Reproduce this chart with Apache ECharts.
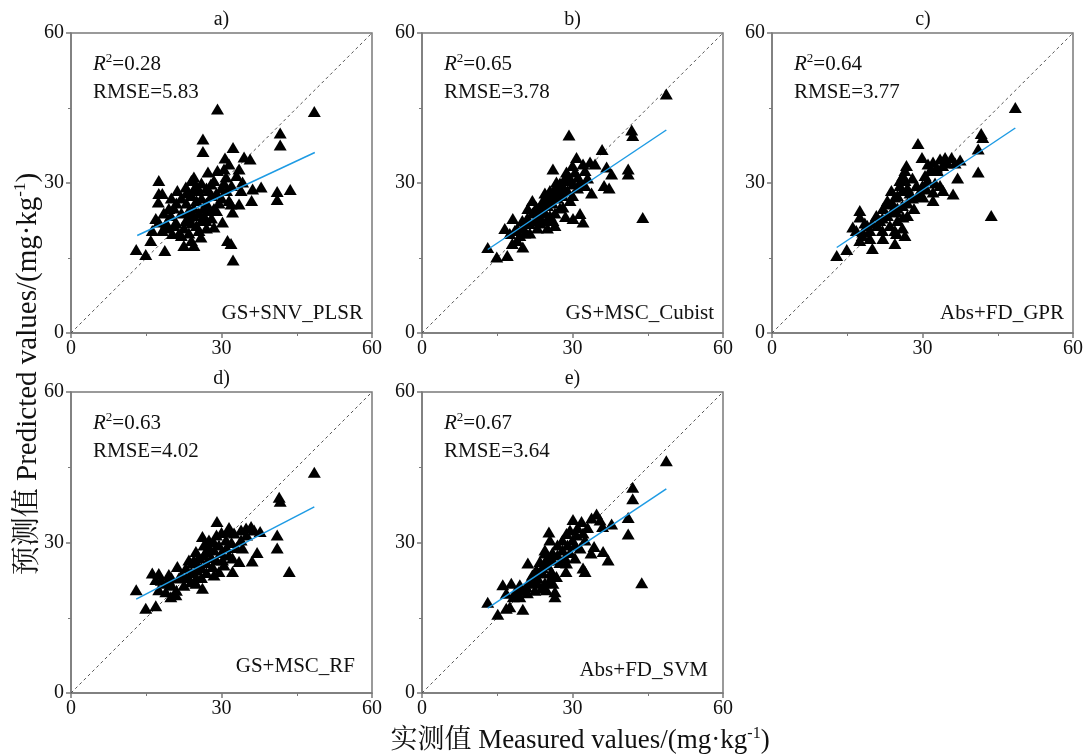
<!DOCTYPE html>
<html>
<head>
<meta charset="utf-8">
<script src="https://cdn.jsdelivr.net/npm/echarts@6/dist/echarts.min.js"></script>
<style>html,body{margin:0;padding:0;background:#fff;}#c{width:1086px;height:755px;}</style>
</head>
<body>
<div id="c"></div>
<script>
// ---------- data ----------
const panelTitles = ['a)', 'b)', 'c)', 'd)', 'e)'];
const r2Values = ['0.28', '0.65', '0.64', '0.63', '0.67'];
const rmseValues = ['5.83', '3.78', '3.77', '4.02', '3.64'];
const methodLabels = ['GS+SNV_PLSR', 'GS+MSC_Cubist', 'Abs+FD_GPR', 'GS+MSC_RF', 'Abs+FD_SVM'];
const axisMin = 0, axisMax = 60, axisStep = 30;
const diagonal = [[0, 0], [60, 60]];
const xAxisName = '实测值 Measured values/(mg·kg';
const yAxisName = '预测值 Predicted values/(mg·kg';
const unitSup = '-1';

const pointsA = [[29.2,44.8],[48.5,44.3],[41.7,40.0],[41.7,37.6],[26.3,38.8],[26.3,36.3],[32.3,37.1],[34.5,35.2],[35.7,34.8],[30.7,35.0],[31.5,33.8],[27.3,32.2],[29.2,32.5],[30.5,32.8],[33.5,32.8],[17.5,30.5],[24.5,31.2],[27.9,29.8],[34.2,30.2],[30.9,31.2],[36.2,28.8],[37.9,29.2],[41.1,28.3],[41.1,26.7],[43.7,28.7],[36.0,26.5],[33.9,28.5],[31.9,25.8],[33.5,25.8],[17.5,27.9],[18.2,27.9],[17.4,26.2],[21.2,28.5],[22.9,29.2],[24.5,28.8],[25.5,28.5],[19.5,24.9],[19.9,23.5],[28.5,24.9],[32.2,24.2],[16.9,22.9],[17.5,22.2],[30.2,22.2],[28.5,21.2],[22.9,22.5],[23.5,23.2],[26.9,22.5],[16.2,20.5],[18.2,20.5],[20.2,19.9],[21.5,19.9],[25.9,19.2],[15.9,18.5],[22.5,17.5],[24.5,17.5],[31.2,18.5],[31.9,17.9],[13.0,16.7],[14.9,15.7],[18.7,16.5],[32.3,14.6],
[22.0,27.0],[23.0,26.0],[24.0,27.5],[25.0,26.5],[26.0,27.0],[27.0,26.0],[28.0,27.5],[23.5,24.5],[24.5,25.0],[25.5,24.0],[26.5,25.0],[27.5,24.5],[22.0,24.0],[21.0,22.0],[22.5,21.0],[24.0,22.0],[25.0,21.5],[26.0,22.5],[27.0,21.0],[23.5,20.0],[25.5,20.5],[20.5,21.5],[19.0,22.0],[27.5,28.5],[29.0,28.0],[30.0,27.0],[29.5,26.0],[31.0,28.5],[32.0,29.5],[30.5,30.0],[28.5,30.5],[26.0,30.0],[25.0,29.5],[24.0,30.5],[21.0,26.0],[20.0,27.0],[18.5,24.0],[28.0,23.0],[29.0,24.5],[24.5,23.5],[20.5,25.0],[23.0,28.0],[27.0,29.0],[19.0,21.0],[26.5,23.5],[31.5,26.5],[30.0,29.0],[22.0,19.5],[24.0,18.5],[33.0,31.5]];
const pointsB = [[48.7,47.8],[41.8,40.6],[42.0,39.5],[29.3,39.6],[35.9,36.7],[30.8,35.1],[32.1,33.8],[33.5,34.2],[34.5,33.8],[36.8,33.2],[37.8,31.8],[26.1,32.8],[28.8,32.2],[30.5,32.2],[31.1,31.2],[41.1,32.8],[41.1,31.8],[26.8,30.2],[30.1,29.8],[31.5,30.2],[32.5,29.5],[36.3,29.5],[37.3,29.0],[33.8,28.0],[25.5,28.5],[27.8,28.2],[29.5,26.5],[24.1,26.5],[25.5,26.2],[21.1,24.9],[22.8,25.2],[28.1,25.2],[44.0,23.1],[28.6,23.3],[30.1,22.9],[31.5,23.9],[32.1,22.2],[18.1,22.9],[23.5,23.2],[24.8,22.5],[26.1,22.5],[16.5,20.9],[20.1,21.2],[21.5,21.9],[17.5,19.9],[19.5,19.5],[18.0,17.9],[20.1,17.2],[13.1,17.1],[14.9,15.2],[17.0,15.5],
[22.0,24.0],[23.0,24.5],[24.0,25.0],[25.0,25.5],[26.0,26.0],[27.0,27.0],[28.0,27.5],[29.0,28.5],[24.5,24.0],[25.5,23.5],[26.5,24.0],[27.5,25.0],[23.5,22.0],[22.5,22.5],[21.0,23.0],[20.0,22.5],[19.0,21.0],[18.5,20.5],[20.5,20.0],[26.0,27.5],[27.0,28.5],[28.0,29.5],[25.0,27.0],[24.0,26.0],[29.5,31.0],[28.5,31.0],[27.5,30.0],[26.5,29.0],[30.0,27.5],[31.0,29.0],[23.0,21.0],[25.0,21.0],[26.5,21.5],[21.5,20.0],[19.0,18.5],[22.0,26.5],[24.5,28.0],[32.5,32.5],[33.0,31.0],[30.0,33.5],[29.0,30.5]];
const pointsC = [[48.5,45.1],[41.7,39.9],[42.0,39.1],[41.1,36.8],[41.1,32.2],[43.7,23.5],[29.1,37.9],[29.9,35.1],[31.1,33.8],[32.1,34.2],[33.5,34.8],[34.5,35.1],[35.8,35.1],[37.5,34.6],[31.5,32.5],[32.8,33.2],[37.0,31.0],[26.5,32.5],[26.1,31.5],[25.5,30.5],[28.8,29.5],[30.8,28.8],[32.1,28.2],[34.1,28.5],[36.1,27.8],[23.8,28.5],[24.5,27.2],[30.1,27.2],[32.1,26.5],[28.3,24.9],[22.8,25.8],[22.1,24.9],[17.5,24.5],[17.5,23.2],[20.8,23.5],[21.5,22.5],[24.8,24.2],[26.1,23.2],[16.1,21.2],[16.8,20.5],[18.1,20.2],[19.5,20.5],[17.5,18.5],[19.5,18.9],[22.1,18.9],[24.8,19.9],[26.5,19.5],[24.5,17.9],[20.0,16.9],[14.9,16.7],[12.9,15.5],
[23.0,26.5],[24.0,26.0],[25.0,27.5],[26.0,28.5],[27.0,29.0],[25.5,29.5],[26.5,30.5],[27.5,28.0],[28.0,27.0],[29.0,27.5],[24.0,24.5],[25.0,25.0],[26.0,25.5],[27.0,26.0],[23.0,23.5],[22.0,23.0],[21.0,21.5],[20.0,22.0],[19.0,21.5],[23.5,21.5],[25.0,22.5],[27.0,23.5],[26.0,21.0],[18.5,22.0],[30.0,29.5],[31.0,30.5],[32.5,30.0],[33.5,29.5],[30.5,31.5],[33.0,32.5],[34.0,33.5],[35.0,34.0],[36.5,34.0],[26.8,33.5],[22.0,20.5],[24.5,20.5],[29.5,28.0],[28.0,31.0],[18.0,19.5]];
const pointsD = [[48.5,44.0],[41.5,39.0],[41.7,38.2],[41.1,31.5],[41.1,28.9],[43.5,24.2],[29.1,34.2],[31.2,32.2],[32.5,31.9],[33.9,32.5],[34.9,32.9],[35.9,33.2],[37.7,32.2],[26.2,31.2],[28.4,30.2],[30.9,30.5],[33.9,30.5],[34.2,28.9],[37.1,28.0],[24.9,28.2],[26.9,28.2],[30.2,26.5],[32.2,26.9],[33.5,26.2],[36.1,26.3],[21.2,25.2],[22.9,24.9],[24.2,25.9],[25.5,25.2],[28.2,25.2],[29.5,24.2],[32.2,24.2],[16.2,23.9],[17.5,23.8],[19.5,23.6],[16.9,22.6],[18.9,21.9],[21.5,22.9],[23.9,22.2],[24.9,21.9],[26.2,20.9],[17.5,20.6],[18.9,20.2],[20.9,19.6],[19.9,19.2],[13.0,20.6],[14.9,16.9],[16.9,17.4],
[22.0,23.5],[23.0,23.0],[24.0,24.0],[25.0,24.5],[26.0,25.0],[27.0,26.0],[28.0,27.0],[25.5,27.0],[26.5,27.5],[27.5,29.0],[28.5,28.5],[29.5,29.5],[30.0,28.0],[31.0,29.0],[32.0,30.0],[29.0,31.5],[30.0,32.0],[31.5,33.0],[27.0,24.0],[28.5,23.5],[26.0,23.0],[25.0,23.0],[20.0,21.5],[21.0,20.5],[22.5,21.5],[18.0,22.5],[20.0,23.0],[23.5,26.5],[24.5,26.5],[30.5,25.5],[31.5,27.5],[29.0,26.5],[27.5,30.5],[26.5,29.5],[33.0,29.0],[35.0,31.5],[36.5,32.5],[19.5,22.5]];
const pointsE = [[48.7,46.3],[42.0,41.0],[42.0,38.7],[41.1,35.0],[41.1,31.7],[43.8,22.0],[34.8,35.7],[33.8,34.9],[30.1,34.6],[31.8,34.2],[36.0,33.2],[37.8,33.7],[25.3,32.1],[25.5,30.5],[28.8,31.8],[30.8,31.5],[32.1,31.9],[32.5,30.5],[30.5,29.5],[31.5,28.9],[34.3,29.2],[33.7,27.9],[36.1,28.2],[37.1,26.5],[24.5,27.9],[23.5,26.2],[21.1,25.9],[28.8,25.9],[30.5,26.9],[28.7,24.2],[32.1,24.9],[32.5,24.2],[22.8,24.6],[24.1,23.9],[25.8,24.2],[26.8,23.2],[26.1,21.9],[16.1,21.6],[17.8,21.9],[19.5,21.6],[20.8,21.2],[22.1,21.9],[23.8,20.9],[24.8,20.6],[26.5,20.2],[26.5,19.2],[16.8,19.9],[18.2,19.2],[19.5,19.2],[17.5,17.2],[16.8,16.9],[20.1,16.7],[13.1,18.1],[15.1,15.7],
[22.0,23.5],[23.0,23.0],[24.0,25.0],[25.0,25.5],[26.0,26.5],[27.0,27.5],[28.0,28.5],[29.0,29.5],[24.5,28.5],[25.0,27.0],[26.0,28.0],[27.0,29.5],[28.0,30.5],[29.5,28.0],[30.0,30.5],[25.5,22.5],[24.5,22.0],[23.0,22.0],[21.0,20.0],[22.5,20.5],[20.0,20.5],[18.5,20.0],[26.0,23.5],[25.0,26.5],[23.5,24.0],[31.0,33.0],[29.5,32.5],[27.5,26.0],[28.5,27.0],[33.0,33.0],[35.5,34.5],[19.0,20.5],[21.5,22.5]];

const fitA = [[13.2, 19.5], [48.6, 36.1]];
const fitB = [[13.1, 16.7], [48.7, 40.6]];
const fitC = [[12.9, 17.1], [48.5, 41.0]];
const fitD = [[13.0, 18.7], [48.5, 37.1]];
const fitE = [[13.1, 16.9], [48.7, 40.7]];

const allPoints = [pointsA, pointsB, pointsC, pointsD, pointsE];
const allFits = [fitA, fitB, fitC, fitD, fitE];

// ---------- layout ----------
const layout = [
  {l: 71,  t: 33,  w: 301, h: 300, labRight: 9,  labDy: 20},
  {l: 422, t: 33,  w: 301, h: 300, labRight: 9,  labDy: 20},
  {l: 772, t: 33,  w: 302, h: 300, labRight: 10, labDy: 20},
  {l: 71,  t: 392, w: 301, h: 301, labRight: 17, labDy: 27},
  {l: 422, t: 392, w: 301, h: 301, labRight: 15, labDy: 23}
];
const FONT = '"Liberation Serif","Times New Roman","Noto Serif CJK SC","Noto Sans CJK SC",serif';
const frameColor = '#7a7a7a';
const textColor = '#111';

const grids = [], xAxes = [], yAxes = [], series = [], graphics = [];

layout.forEach((g, i) => {
  grids.push({left: g.l, top: g.t, width: g.w, height: g.h, show: true,
    borderColor: frameColor, borderWidth: 1.5, backgroundColor: 'rgba(0,0,0,0)', containLabel: false});
  const axisCommon = {
    gridIndex: i, type: 'value', min: axisMin, max: axisMax, interval: axisStep,
    axisLine: {show: true, onZero: false, lineStyle: {color: frameColor, width: 1.5}},
    axisTick: {show: true, inside: false, length: 5, lineStyle: {color: frameColor, width: 1.5}},
    minorTick: {show: true, splitNumber: 2, length: 3, lineStyle: {color: frameColor, width: 1}},
    splitLine: {show: false}, minorSplitLine: {show: false},
    axisLabel: {fontFamily: FONT, fontSize: 20, color: textColor, margin: 6}
  };
  xAxes.push(Object.assign({}, axisCommon));
  yAxes.push(Object.assign({}, axisCommon, {axisLabel: {fontFamily: FONT, fontSize: 20, color: textColor, margin: 7}}));

  series.push({type: 'line', xAxisIndex: i, yAxisIndex: i, data: diagonal, symbol: 'none', silent: true,
    lineStyle: {color: '#555', width: 1, type: [3, 3]}, z: 1});
  series.push({type: 'scatter', xAxisIndex: i, yAxisIndex: i, data: allPoints[i], symbol: 'triangle',
    symbolSize: [13, 11], itemStyle: {color: '#000', opacity: 1}, z: 3});
  series.push({type: 'line', xAxisIndex: i, yAxisIndex: i, data: allFits[i], symbol: 'none',
    lineStyle: {color: '#1e9be4', width: 1.5}, z: 4});

  // panel title
  graphics.push({type: 'text', x: g.l + g.w / 2, y: g.t - 13, z: 10,
    style: {text: panelTitles[i], fill: textColor, fontFamily: FONT, fontSize: 20,
      align: 'center', verticalAlign: 'middle', textAlign: 'center', textVerticalAlign: 'middle'}});
  // R2 / RMSE
  graphics.push({type: 'text', x: g.l + 22, y: g.t + 31, z: 10,
    style: {text: '{i|R}{s|2}{n|=' + r2Values[i] + '}', fill: textColor, fontFamily: FONT, fontSize: 20,
      align: 'left', verticalAlign: 'middle', textAlign: 'left', textVerticalAlign: 'middle',
      rich: {
        i: {fontFamily: FONT, fontSize: 21, fontStyle: 'italic', fill: textColor, lineHeight: 24},
        s: {fontFamily: FONT, fontSize: 13, fill: textColor, verticalAlign: 'top', lineHeight: 24, padding: [0, 0, 6, 0]},
        n: {fontFamily: FONT, fontSize: 21, fill: textColor, lineHeight: 24}
      }}});
  graphics.push({type: 'text', x: g.l + 22, y: g.t + 59, z: 10,
    style: {text: 'RMSE=' + rmseValues[i], fill: textColor, fontFamily: FONT, fontSize: 21,
      align: 'left', verticalAlign: 'middle', textAlign: 'left', textVerticalAlign: 'middle'}});
  // method label
  graphics.push({type: 'text', x: g.l + g.w - g.labRight, y: g.t + g.h - g.labDy, z: 10,
    style: {text: methodLabels[i], fill: textColor, fontFamily: FONT, fontSize: 21,
      align: 'right', verticalAlign: 'middle', textAlign: 'right', textVerticalAlign: 'middle'}});
});

// axis names
graphics.push({type: 'text', x: 580, y: 741, z: 10,
  style: {text: '{t|' + xAxisName + '}{s|' + unitSup + '}{t|)}', fill: textColor,
    align: 'center', verticalAlign: 'middle', textAlign: 'center', textVerticalAlign: 'middle',
    rich: {
      t: {fontFamily: FONT, fontSize: 27, fill: textColor, lineHeight: 30},
      s: {fontFamily: FONT, fontSize: 16, fill: textColor, verticalAlign: 'top', lineHeight: 30}
    }}});
graphics.push({type: 'text', x: 28, y: 374, rotation: Math.PI / 2, z: 10,
  style: {text: '{t|' + yAxisName + '}{s|' + unitSup + '}{t|)}', fill: textColor,
    align: 'center', verticalAlign: 'middle', textAlign: 'center', textVerticalAlign: 'middle',
    rich: {
      t: {fontFamily: FONT, fontSize: 29, fill: textColor, lineHeight: 32},
      s: {fontFamily: FONT, fontSize: 17, fill: textColor, verticalAlign: 'top', lineHeight: 32}
    }}});

const chart = echarts.init(document.getElementById('c'), null, {renderer: 'canvas'});
chart.setOption({
  animation: false,
  backgroundColor: '#fff',
  grid: grids, xAxis: xAxes, yAxis: yAxes, series: series, graphic: graphics
});
</script>
</body>
</html>
